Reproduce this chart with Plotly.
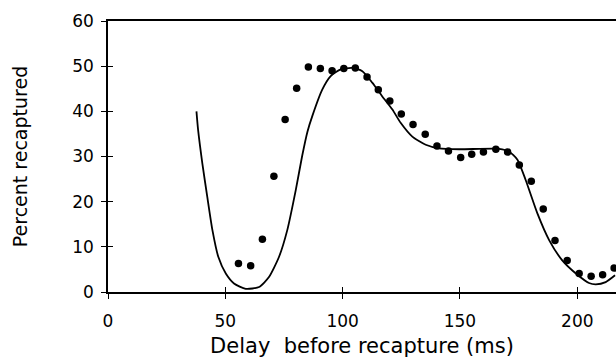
import plotly.graph_objects as go

# Measured data points (dots)
dot_x = [55.6, 60.8, 65.8, 70.7, 75.5, 80.4, 85.4, 90.5, 95.5, 100.5, 105.4,
         110.4, 115.2, 120.1, 125.0, 130.0, 135.2, 140.2, 145.1, 150.3, 155.0,
         160.0, 165.3, 170.3, 175.3, 180.4, 185.5, 190.5, 195.7, 200.8, 205.9,
         210.8, 215.7]
dot_y = [6.3, 5.8, 11.7, 25.6, 38.2, 45.1, 49.8, 49.5, 49.0, 49.5, 49.6,
         47.6, 44.8, 42.3, 39.4, 37.1, 34.9, 32.3, 31.2, 29.8, 30.5,
         31.0, 31.6, 31.0, 28.1, 24.5, 18.4, 11.4, 7.0, 4.1, 3.5,
         3.8, 5.3]

# Model curve (solid line)
curve_x = [37.7, 38.4, 40.2, 42.3, 44.5, 47.0, 50.2, 53.7, 58.7, 64.4, 68.6,
           72.9, 76.4, 80.0, 82.7, 85.0, 87.1, 91.3, 94.9, 99.2, 104.1, 108.4,
           112.7, 116.9, 121.2, 124.8, 129.7, 135.4, 141.1, 149.6, 166.7, 170.9,
           174.5, 178.0, 183.0, 188.0, 193.6, 199.4, 205.0, 207.9, 212.1, 216.1]
curve_y = [40.0, 35.9, 28.5, 21.1, 13.7, 7.8, 4.1, 1.9, 0.7, 1.1, 3.3,
           7.8, 13.7, 22.5, 30.0, 35.5, 39.0, 44.8, 47.8, 49.3, 49.6, 48.9,
           46.3, 43.3, 40.4, 37.4, 34.4, 32.6, 31.8, 31.6, 31.7, 31.1,
           29.3, 24.8, 17.4, 11.5, 7.0, 4.1, 2.0, 1.7, 2.2, 3.7]

x_ticks = [0, 50, 100, 150, 200]
y_ticks = [0, 10, 20, 30, 40, 50, 60]
x_range = [0, 216.5]
y_range = [0, 60]

FONT = "DejaVu Sans"

fig = go.Figure()
fig.add_trace(go.Scatter(x=curve_x, y=curve_y, mode="lines",
                         line=dict(color="black", width=1.8, shape="spline", smoothing=0.6),
                         showlegend=False, cliponaxis=True, hoverinfo="skip"))
fig.add_trace(go.Scatter(x=dot_x, y=dot_y, mode="markers",
                         marker=dict(color="black", size=7.5),
                         showlegend=False, cliponaxis=False, hoverinfo="skip"))
# invisible trace for the overlay axes (inner half of the crossing ticks)
fig.add_trace(go.Scatter(x=[None], y=[None], xaxis="x2", yaxis="y2", showlegend=False))

common_tick = dict(tickfont=dict(family=FONT, size=17, color="black"))

fig.update_layout(
    width=616, height=358,
    margin=dict(l=108, r=0, t=21, b=66),
    paper_bgcolor="white", plot_bgcolor="white",
    xaxis=dict(range=x_range, tickvals=x_ticks, ticks="outside", ticklen=5,
               tickwidth=1.2, tickcolor="black", automargin=False,
               showline=True, linecolor="black", linewidth=1.5, mirror=True,
               showgrid=False, zeroline=False, ticklabelstandoff=8,
               title=dict(text="Delay\u00a0 before recapture (ms)",
                          font=dict(family=FONT, size=21, color="black"), standoff=24),
               **common_tick),
    yaxis=dict(range=y_range, tickvals=y_ticks, ticks="outside", ticklen=5,
               tickwidth=1.2, tickcolor="black", automargin=False,
               showline=True, linecolor="black", linewidth=1.5, mirror=False,
               showgrid=False, zeroline=False, ticklabelstandoff=4,
               title=dict(text="Percent recaptured",
                          font=dict(family=FONT, size=19, color="black"), standoff=40),
               **common_tick),
    xaxis2=dict(range=x_range, tickvals=x_ticks, ticks="inside", ticklen=5,
                tickwidth=1.2, tickcolor="black", overlaying="x", anchor="y2",
                side="bottom", showticklabels=False, showline=False, automargin=False,
                showgrid=False, zeroline=False),
    yaxis2=dict(range=y_range, tickvals=y_ticks, ticks="inside", ticklen=5,
                tickwidth=1.2, tickcolor="black", overlaying="y", anchor="x2",
                side="left", showticklabels=False, showline=False, automargin=False,
                showgrid=False, zeroline=False),
)

fig.write_html("out.html",
               config={"displayModeBar": False},
               post_script="document.body.style.margin='0';document.body.style.overflow='hidden';")
